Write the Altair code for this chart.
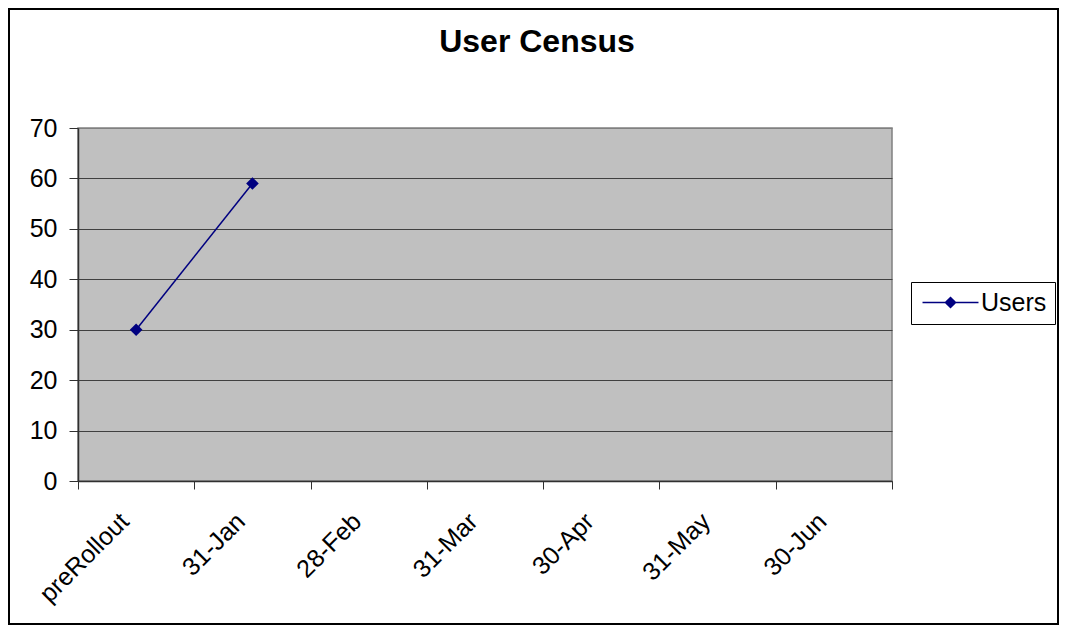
import altair as alt
import pandas as pd

categories = ["preRollout", "31-Jan", "28-Feb", "31-Mar", "30-Apr", "31-May", "30-Jun"]
users = [30, 59, None, None, None, None, None]
series_name = "Users"
title_text = "User Census"
y_ticks = [0, 10, 20, 30, 40, 50, 60, 70]

df = pd.DataFrame({"cat": categories, "value": users, "series": [series_name] * len(categories)})

W, H = 814, 353
FONT = "Liberation Sans"
NAVY = "#000080"

x_enc = alt.X("cat:N", sort=categories,
              scale=alt.Scale(type="band", domain=categories, paddingInner=0, paddingOuter=0),
              axis=alt.Axis(title=None, tickBand="extent", tickSize=8, labelAngle=-45,
                            labelAlign="right", labelBaseline="middle", labelPadding=28,
                            labelOffset=-12, labelFontSize=25, labelFont=FONT, labelColor="black",
                            domainColor="#303030", domainWidth=1.5, tickColor="#303030",
                            grid=False, labelOverlap=False))
y_enc = alt.Y("value:Q", scale=alt.Scale(domain=[0, 70], nice=False, zero=True),
              axis=alt.Axis(title=None, values=y_ticks, tickSize=9, labelPadding=12,
                            labelFontSize=25, labelFont=FONT, labelColor="black",
                            domainColor="#303030", domainWidth=1.5, tickColor="#303030",
                            grid=True,
                            gridColor={"condition": {"test": "datum.value == 70", "value": "#808080"},
                                       "value": "#404040"},
                            gridWidth=1))

base = alt.Chart(df)

line = base.mark_line(color=NAVY, strokeWidth=1.5).encode(x=x_enc, y=y_enc)

points = base.mark_point(shape="diamond", filled=True, size=160, opacity=1).encode(
    x=x_enc, y=y_enc,
    color=alt.Color("series:N", scale=alt.Scale(domain=[series_name], range=[NAVY]),
                    legend=alt.Legend(title=None, orient="none", legendX=833, legendY=154,
                                      strokeColor="black", fillColor="white",
                                      padding=8, labelFontSize=25, labelFont=FONT,
                                      labelColor="black", labelOffset=18,
                                      symbolType="M-2.545,0H2.545M0,-0.46L0.46,0L0,0.46L-0.46,0Z",
                                      symbolSize=484, symbolOffset=19,
                                      symbolStrokeWidth=1.5,
                                      symbolOpacity=1,
                                      symbolFillColor=NAVY, symbolStrokeColor=NAVY))
)

title = alt.Chart(pd.DataFrame({"t": [title_text]})).mark_text(
    font=FONT, fontSize=32, fontWeight="bold", color="black", align="center", baseline="alphabetic"
).encode(text="t:N", x=alt.value(459), y=alt.value(-76))

border = alt.Chart(pd.DataFrame({"b": [0]})).mark_rect(
    fill=None, stroke="black", strokeWidth=2
).encode(x=alt.value(-69), x2=alt.value(980), y=alt.value(-119), y2=alt.value(496))

chart = alt.layer(border, title, line, points).properties(
    width=W, height=H,
    autosize=alt.AutoSizeParams(type="none"),
    padding={"left": 70, "top": 120, "right": 168, "bottom": 147},
    background="white",
).configure_view(stroke="#808080", strokeWidth=1.5, fill="#C0C0C0")

chart.save("out.html", embed_options={"renderer": "svg", "actions": False})
